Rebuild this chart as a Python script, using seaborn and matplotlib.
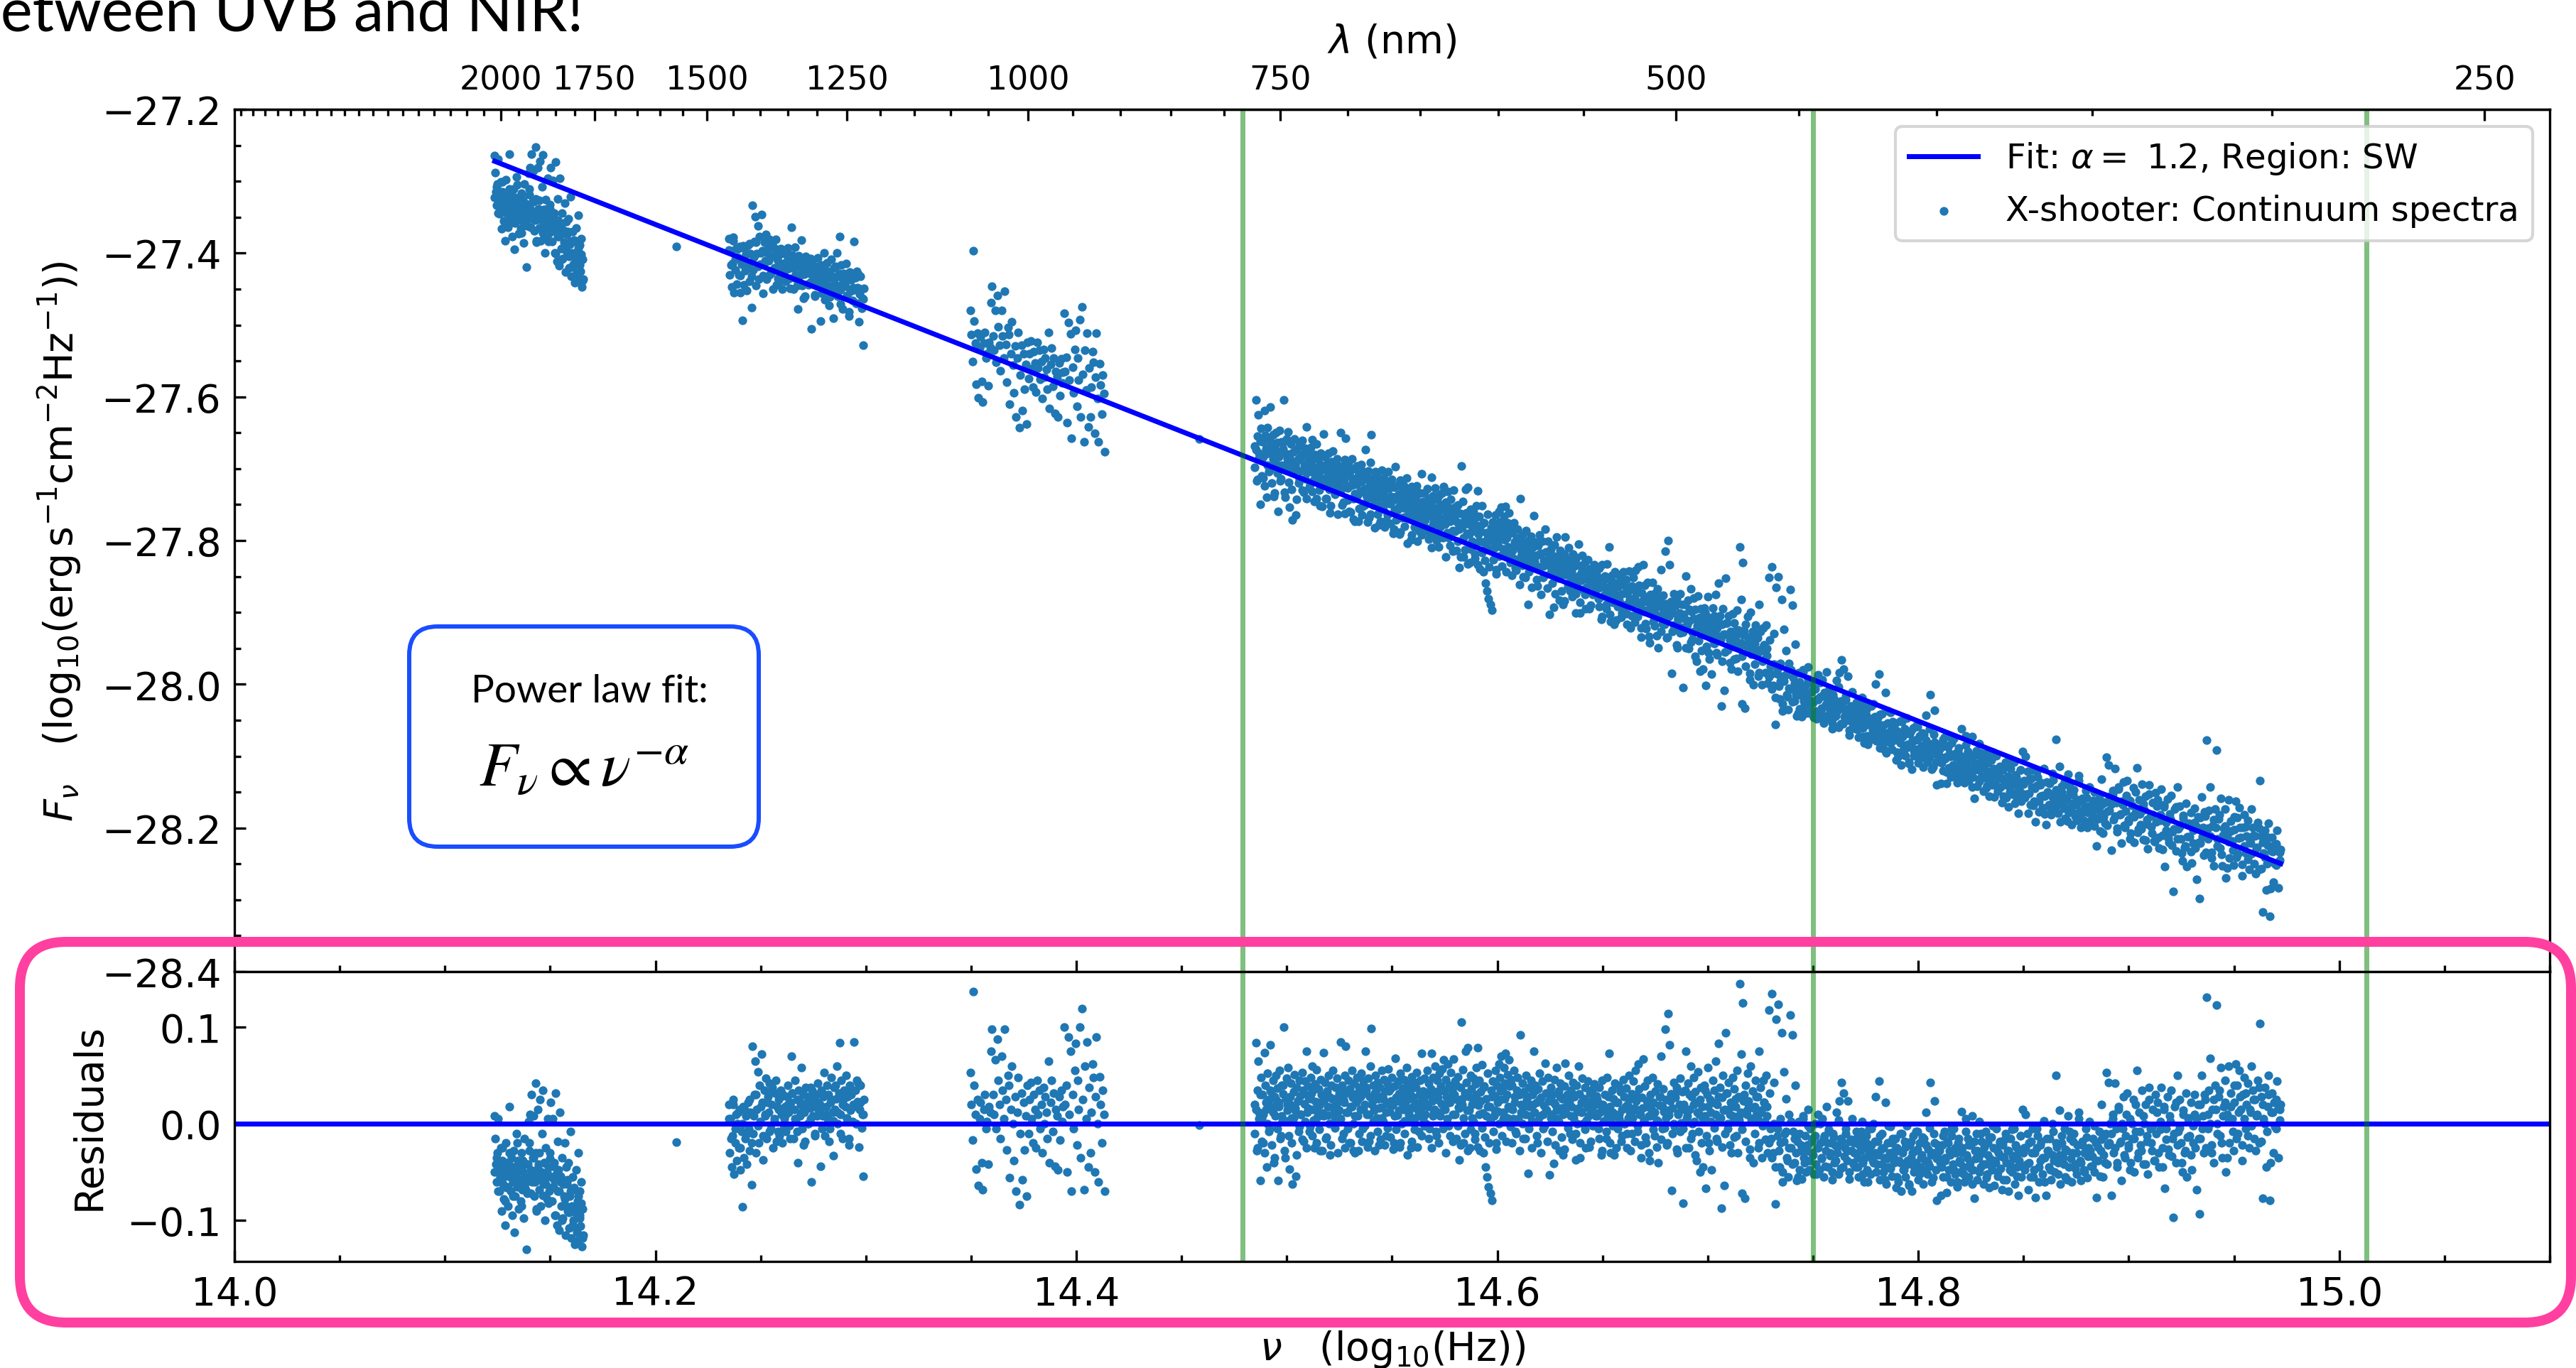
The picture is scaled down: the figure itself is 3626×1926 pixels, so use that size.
import numpy as np
import pandas as pd
import matplotlib
matplotlib.use("Agg")
import matplotlib.pyplot as plt
import seaborn as sns
from matplotlib.patches import FancyBboxPatch
from matplotlib.ticker import AutoMinorLocator, FixedLocator, MultipleLocator

W, H, DPI = 3626, 1927, 300

# ---------------------------------------------------------------- fit model
ALPHA = 1.152          # power-law index (F_nu ~ nu^-alpha)
NU_PIVOT = 14.1235     # log10(Hz)
LOGF_PIVOT = -27.272   # log10(erg s-1 cm-2 Hz-1) at the pivot

# ---------------------------------------------------------------- residuals (units of 1e-3 dex)
# NIR K-band continuum windows
SPAN_K = (14.1235, 14.1660)
RES_K = [8, -15, -42, -60, -30, 5, -48, -70, -55, -25, -90, -38, -62, -78, -50, -105, -20, -66, -45, -85,
         -40, 18, -55, -70, -35, -95, -60, -28, -48, -112, -75, -52, -10, -65, -38, -88, -58, -45, -80, -30,
         -68, -50, -98, -15, -62, -42, -130, -72, -55, 2,
         -20, 10, -48, 30, -60, -35, 8, -75, -52, 42, -30, -90, -58, 15, -42, -68, 25, -85, -50, -10,
         35, -62, -40, -100, -25, -55, -78, 5, -45, -70,
         -30, 22, -55, -80, 5, -65, -40, -95, 32, -52, -105, -18, -70, -48, -110, 12, -60, -85, -35, -98,
         -58, -75, -20, -115, -45,
         -62, -90, -40, -108, -75, -8, -118, -85, -55, -100, -68, -125, -92, -48, -112, -80, -30, -120, -95,
         -70, -106, -60, -127, -88, -115]
FILL_K = [-50, -35, -70, -45, -60, -25, -55, -80, -40, -65, -30, -50, -75, -45, -58, -20, -62, -48, -85, -38,
          -55, -68, -42, -28, -72, -52, -35, -60, -88, -46, -30, -56, -74, -40, -62, -50, -82, -36, -66, -44,
          -58, -95, -48, -70, -54, -100, -62, -78, -85, -58, -92, -70, -105, -66, -88, -110, -75, -98, -82, -118]

# NIR H-band continuum windows
SPAN_H = (14.2346, 14.2994)
RES_H = [20, -30, 5, -45, -12, 25, -52, -20, 10, -38, 0, -25, 15, -48, -8, -86, 18, -35, -15, 8, -42, 22, -5, -28, 12,
         -63, 80, -10, 30, 65, -30, 15, 54, -20, 40, 2, 72, 22, -37, 35, 8, 47, -15, 28, 12, 42, -5, 20, 38, -25,
         5, 32, 45, 18, -8,
         25, -12, 35, 10, -20, 30, 5, 18, -8, 28, 40, 12, -2, 22, 70, 32, -15, 15, 45, 2, 25, -40, 35, 8, 20,
         58, -5, 30, 12, -18, 38, 22, 0, 28, 16, 5, -60, 35, 18, 25, -10, 30, 8, 42, 15,
         20, -44, 35, 8, 28, 53, -12, 18, 40, 5, 30, -5, 22, 48, 12, -33, 38, 15, 26, 60, 0, 32, 84, 10, 45,
         -15, 25, 35, 18, 50, 6, 28, -22, 40, 14, 30, 2, 20,
         85, 35, 0, 45, 23, -24, 15, 40, -4, 10, -54, 25]
FILL_H = [5, -15, 20, -5, 12, -25, 0, 15, -10, 25, -20, 8, 30, -2, 18, -12, 10, 22, -8, 35,
          2, -18, 15, 28, -5, 10, 20, -15, 32, 5, -8, 25, 12, -22, 18, 0, 38, 8, -12, 22,
          15, -5, 30, 10, -18, 25, 3, 40, 12, -10, 20, 28, 5, -15, 35, 18, 0, 42, 22, 10]

# NIR J-band continuum windows
SPAN_J = (14.3493, 14.4138)
RES_J = [53, 20, -17, 137, 40, 10, -47, 25, -64, 5, 22, -40, -68, 15, 30, -5, 2, -42, 18, 12,
         75, 98, 30, 10, 66, -5, 88, 45, 20, -15, 70, 35, 5, 98, 25, -27, 50, 40, -56, 15, 60, 0, -38, 28, -70,
         12, 48, -84, -10, 32, -58, 22, -27, 8, -75,
         40, -10, 25, 43, 5, -20, 30, 15, -25, 45, 10, 35, -5, 20, -30, 38, 0, 28, 12, -15, 65, -40, 22, 45,
         -8, 32, -44, 15, 8, -48, 28, -17, 35, 2, 18,
         100, 20, 40, -50, 90, 10, 75, -70, 30, -5, 55, 83, -22, 45, 15, 100, -35, 119, 25, -68, 60, 5, 85, -45,
         38, -30, 12, 62, 48, -50, 28, 90, 0, -60, 49, 20, -20, 35, 10, -70]

# isolated continuum points
SINGLE_NU = [14.2098, 14.4585]
SINGLE_RES = [-19, -1]

# VIS + UVB continuum, in consecutive frequency bins
EDGES_OPT = [14.4846, 14.5253, 14.5660, 14.6066, 14.6473, 14.6880, 14.7287,
             14.7694, 14.8100, 14.8507, 14.8914, 14.9320, 14.9725]
RES_OPT_01 = [20, 84, -28, 35, 65, 12, -59, 48, 5, 30, -20, 74, 40, 15, -45, 52, 25, -5, 82, 33,
              18, 45, -40, 28, 8, 50, 37, -59, 22, 55, -12, 40, 3, 31, 100, -35, 26, 47, 14, 58,
              -47, 20, 42, 6, -62, 33, 51, 16, -54, 38, 24, -8, 45, 29, 10, 53, 35, -18, 21, 44,
              75, 12, 39, 27, -3, 48, 32, 60, 15, -25, 41, 23, 56, 7, 36, 19, -28, 46, 30, 11,
              74, 25, 43, -15, 34, 9, 50, 28, -32, 40, 17, 55, 26, 2, 38, 22, 47, 13, 31, 37]
RES_OPT_02 = [85, 28, 40, -10, 22, 50, 80, 33, 12, 45, -20, 36, 18, 55, 27, -28, 42, 8, 31, 48,
              25, -28, 38, 15, 52, 30, -5, 44, 20, 75, 35, 10, 47, -18, 28, 60, 99, 24, 40, 14,
              32, 50, 6, 43, 26, -22, 38, 17, 55, 29, 2, 46, 34, -12, 21, 41, 57, 13, 36, 24,
              48, 19, -20, 39, 68, 27, 9, 44, 31, -24, 52, 22, 37, 15, 46, 3, 33, 58, 25, 41,
              12, 35, -25, 49, 28, 18, 43, 6, 38, 53, 21, -8, 30, 45, 16, 73, 34, 26, 47, 10]
RES_OPT_03 = [30, 55, 18, 42, -5, 36, 73, 24, 48, 12, 60, 33, -12, 45, 27, 52, 8, 39, 21, 57,
              66, 34, 15, 46, 28, 62, -2, 40, 22, 53, 35, 10, 67, 30, 44, -15, 25, 49, 17, -37,
              38, 105, 20, 56, -20, 32, 75, 43, 14, 79, 28, -25, 50, 36, 6, 47, 24, -10, 41, 58,
              79, 19, 45, -28, 33, 61, 11, -30, 39, -45, 26, -55, 52, -65, 18, -72, 35, -79, 44, 8,
              29, 55, -20, 40, 13, 62, 48, 25, 70, 36, 5, 58, 42, 73, 30, 51, 18, 66, 39, 46]
RES_OPT_04 = [40, 15, 55, 28, -8, 35, 48, 5, 30, 92, 20, 42, -15, 33, 10, 50, 25, -51, 38, 18,
              45, 2, 30, 75, 12, 40, 22, -20, 36, 52, 8, 27, 44, -5, 19, 63, 32, 14, 48, 24,
              -53, 38, 10, 30, -41, 46, 20, 58, 5, 34, -28, 42, 16, 26, -32, 39, 63, 11, 30, 22,
              50, -10, 35, 18, 43, 6, 28, -37, 40, 13, 60, 31, -35, 22, 47, 0, 26, 38, -25, 17,
              44, 8, 32, -18, 24, 36, 12, 41, 20, 29]
RES_OPT_05 = [25, -5, 38, 12, -32, 45, 20, 3, 30, -15, 48, 8, 73, 18, -30, 35, -2, 26, 42, 10,
              -25, 22, 40, 5, 33, -18, 15, 46, 28, 0, 37, -10, 20, 50, 12, -28, 31, 6, 44, 16,
              55, 24, -8, 62, 36, 10, -35, 27, 67, 2, 39, -20, 18, 45, 8, -38, 30, 14, 48, 22,
              -12, 34, 4, 41, -40, 19, 28, 70, -5, 36, 13, 98, 25, -22, 114, 9, 82, 31, -69, 16,
              43, -3, 27, 38, -30, 11, 20, 47, 1, 33]
RES_OPT_06 = [-82, 20, 35, 75, 5, 42, -25, 15, 60, 28, -10, 48, 2, 33, -38, 22, 54, 10, -50, 38,
              18, -45, 40, 8, -67, 30, 58, -20, 25, 12, -48, 45, 0, 35, 65, -15, 20, 83, 6, 38,
              -87, 27, 50, -64, 15, 94, 32, -5, 43, 10, 22, -30, 48, 3, 36, 18, -12, 55, 28, 8,
              145, 72, -72, 125, 30, -77, 40, 14, 52, 24, -35, 60, 5, 34, -40, 18, 45, 9, 28, -25,
              75, 38, 12, -35, 45, 22, 2, 50, 18, -30]
RES_OPT_07 = [118, 32, -15, 135, -30, 43, -83, 108, -5, 124, -45, -20, 94, -60, 54, -10, 26, -35, -55, 10,
              113, -25, 92, -8, -40, 40, -59, -18, 2, -48, -28, -57, 5, -35, -12, -50, -22, 15, -38, -5,
              -30, -15, -52, 0, -42, -25, 10, -48, -20, -35, 5, -55, -12, -28, 18, -45, -8, -33, -20, -50,
              -10, -40, -22, 12, -30, -52, 24, -15, 43, -45, 32, -25, -5, -38, 24, -57, -18, -28, 5, -42]
RES_OPT_08 = [-20, -45, -8, -35, -55, -15, -28, 2, -40, -60, -25, -12, -48, -32, -5, -52, -22, -38, 0, -30,
              28, -42, -18, 44, -58, -26, -10, -50, -35, 22, -62, -20, -45, -30, -3, -54, -15, -40, -28, -66,
              -25, -60, -38, -10, -70, -30, -48, -18, -55, -2, -42, -64, -22, -35, -70, -12, -50, -28, -40, -8,
              -58, -20, -45, -32, -62, -15, -38, 12, -52, -26, -44, 43, -60, -30, -10, 24, -48, -79, -22, -36]
RES_OPT_09 = [-40, -74, -22, -55, -8, -35, -71, -18, -48, -28, -60, -12, -42, -5, -52, -30, -65, -20, -38, -50,
              13, -25, -45, -60, 5, -32, -15, -55, -40, -22, 8, -48, -77, -28, -10, -58, -35, 2, -45, -18,
              -30, -62, -42, -8, -52, -20, -66, -36, -14, -48, -25, -64, -40, -5, -54, -30, -18, -46, -68, -22,
              -35, -10, -58, -28, -70, -42, -15, -50, -33, -5, -62, -24, -45, -74, -38, -12, -55, 15, -30, -48]
RES_OPT_10 = [10, -42, -68, -20, -55, -30, -5, -48, -76, -25, -12, -60, -38, -18, -52, 3, -35, -74, -28, -45,
              -15, -58, -32, -8, -50, 50, -24, -40, 14, -62, -20, -35, -5, -55, -28, 8, -45, -15, -60, -30,
              -10, -42, -52, -22, 12, -38, -59, -18, -48, -30, -5, -56, -25, 2, -44, -34, -15,
              -50, -20, -76, -38, -8, -28, 20, -55, -12, -40, 53, -22, 43, 0]
RES_OPT_11 = [-74, 10, -30, 42, -5, -45, 18, -20, -59, 0, 28, -35, -12, 32, -25, 5, -40, -15,
              25, -50, -8, 55, -30, 12, -22, 35, -42, 0, 20, -18, -52, 38, -5, -28, 15,
              -38, 30, -10, 22, -45, 2, 38, -25, 15, -67, -5, 28, -32, 8, 35, -15,
              -97, 18, -40, 50, -8, 25, -20, -50, 10, -30, 32, -55, 5, -12, 22, -48, -2, 30, -25]
RES_OPT_12 = [-68, 20, -93, -15, 50, 8, -30, 25, 131, -5, 35, 68, -22, 15, -40, 40,
              123, 0, 28, -12, 58, -35, 18, 45, -50, 10, 60, -20, 32, 5, -28, 22, 62,
              40, -10, 55, 15, -38, 30, 48, -5, 20, 42, -25, 12, 60, 35, -15, 25, 8,
              45, -20, 104, 28, -77, 5, 38, -45, 18, 50, -79, 12, 32, -30, -3, 25, 44, -35, 15, 20]

# second pass through the same bins (interleaved pixels)
FILL_OPT_01 = [-10, 15, -25, 5, 30, -18, 10, -30, 22, 0, -8, 35, -22, 12, -35, 25, -5, 18, -15, 8,
               40, -28, 3, 20, -12, 28, -20, 6, 14, -32, 24, -3, 10, -16, 32, 2, -25, 16, -8, 26,
               -12, 4, 36, -20, 12, -6, 22, -28, 8, 30, -14, 18, 0, -22, 26, 10, -4, 20, -30, 14]
FILL_OPT_02 = [5, -15, 25, -25, 12, -5, 32, -20, 18, 0, -30, 22, 8, -10, 28, -18, 15, -2, 38, -24,
               10, -12, 20, 2, -28, 30, -8, 16, -16, 6, 26, -22, 12, -4, 34, -14, 20, -26, 8, -6,
               24, 14, -20, 0, 30, -10, 18, -32, 10, 4, -18, 26, -6, 16, -24, 12, 22, -12, 6, -2]
FILL_OPT_03 = [0, 20, -15, 30, -25, 8, 15, -8, 25, -20, 12, 35, -5, 18, -30, 5, 22, -12, 28, -18,
               10, 40, -2, 16, -22, 26, 6, -10, 32, -28, 14, -6, 20, 2, -16, 30, -24, 10, 24, -4,
               38, -14, 8, 18, -20, 4, 28, -8, 14, -26, 22, 0, 34, -12, 12, 26, -18, 6, 16, -3]
FILL_OPT_04 = [-20, 5, 22, -10, 30, -28, 12, 0, 18, -15, 28, -5, 8, -25, 20, 35, -12, 4, 25, -30,
               10, -2, 15, -18, 32, 6, -8, 22, -22, 14, 2, 28, -14, 10, -26, 18, -4, 24, 8, -16,
               30, -10, 0, 16, -20, 12, 26, -6, 4, 20, -24, 14, -2, 22, 8]
FILL_OPT_05 = [8, -15, 20, -28, 2, 15, -8, 28, -20, 5, 12, -32, 22, -5, 10, 35, -12, 0, 18, -25,
               6, 26, -10, 14, -18, 30, -2, 10, -22, 16, 4, -14, 24, -30, 8, 20, -6, 12, -24, 2,
               28, -16, 18, -4, 6, -20, 14, 24, -10, 0, 32, -26, 10, -8, 16]
FILL_OPT_06 = [-5, 15, -25, 8, 30, -15, 0, 20, -32, 12, -8, 25, -20, 5, 35, -12, 18, -28, 2, 22,
               -4, 10, -18, 28, 6, -24, 14, -10, 32, 0, -22, 18, 8, -14, 26, -30, 4, 12, -6, 24,
               -18, 10, 20, -26, 2, 16, -10, 28, 6, -20, 14, -2, 22, -16, 8]
FILL_OPT_07 = [-20, -5, -35, 0, -45, -12, -28, 5, -50, -18, -8, -38, -25, 2, -42, -15, -30, -55, -10, -22,
               8, -40, -28, -2, -48, -18, -32, -12, -52, -25, 0, -36, -15, -44, -20, -6, -30, -58, -14, -38,
               -24, 4, -46, -18, -34, -10, -28, -50, -16, -40]
FILL_OPT_08 = [-30, -15, -45, -22, -8, -52, -35, -20, -60, -28, -5, -40, -18, -50, -32, -12, -42, -25, -58, -36,
               -2, -46, -20, -34, -15, -55, -28, -40, -10, -48, -24, -38, -62, -18, -30, -44, -8, -26, -52, -35,
               -14, -48, -22, -40, -4, -32, -56, -20, -36, -28]
FILL_OPT_09 = [-28, -45, -12, -38, -55, -20, -32, -5, -48, -25, -60, -15, -40, -30, -52, -8, -35, -22, -46, -62,
               -18, -36, -28, -50, -10, -42, -24, -56, -32, -14, -44, -2, -38, -26, -50, -20, -34, -58, -16, -40,
               -28, -48, -6, -36, -22, -54, -30, -12, -44, -25]
FILL_OPT_10 = [-25, -10, -40, -18, -55, -30, -5, -45, -22, -35, -60, -15, -28, -48, 0, -38, -20, -52, -32, -12,
               -42, -26, -58, -8, -36, -18, -46, -30, 5, -40, -22, -50, -14, -34, -28, -44, -2, -38, -24, -54,
               -16, -32, -10, -42, -20]
FILL_OPT_11 = [-10, 5, -25, -40, 15, -18, -5, -32, 10, -22, -48, 0, -15, 20, -35, -8, -28, 8, -42, -12,
               25, -20, -2, -38, 12, -30, -6, -45, 18, -16, -26, 2, -34, -10, 22, -22, -4, -40, 14, -28,
               -14, 6, -32, -20, 10]
FILL_OPT_12 = [5, -15, 20, -5, 30, -25, 10, 0, -30, 25, 15, -10, 35, -20, 8, 22, -35, 2, 18, -8,
               40, -15, 12, 28, -22, 5, 32, -12, 15, -2, 25, -28, 10, 38, -18, 20, 0, -8, 30, -40,
               12, 22, -5, 16, 4]

RES_OPT = [RES_OPT_01, RES_OPT_02, RES_OPT_03, RES_OPT_04, RES_OPT_05, RES_OPT_06,
           RES_OPT_07, RES_OPT_08, RES_OPT_09, RES_OPT_10, RES_OPT_11, RES_OPT_12]
FILL_OPT = [FILL_OPT_01, FILL_OPT_02, FILL_OPT_03, FILL_OPT_04, FILL_OPT_05, FILL_OPT_06,
            FILL_OPT_07, FILL_OPT_08, FILL_OPT_09, FILL_OPT_10, FILL_OPT_11, FILL_OPT_12]

# X-shooter arm boundaries (log10 Hz)
ARM_EDGES = [14.479, 14.750, 15.013]

# wavelength axis: tick values and their frequency positions
LAM_TICKS = [2000, 1750, 1500, 1250, 1000, 750, 500, 250]
LAM_AXIS_NM = [3000, 2000, 1750, 1500, 1250, 1000, 750, 500, 250, 200]
LAM_AXIS_NU = [13.9917, 14.1266, 14.1710, 14.2244, 14.2910, 14.3770, 14.4970, 14.6850, 15.0690, 15.2050]


# ---------------------------------------------------------------- assemble spectrum
def sample(lo, hi, vals, offset=0.5):
    n = len(vals)
    step = (hi - lo) / n
    return lo + step * (np.arange(n) + offset), np.asarray(vals, float) / 1000.0


parts = [sample(*SPAN_K, RES_K), sample(*SPAN_K, FILL_K, 0.25),
         sample(*SPAN_H, RES_H), sample(*SPAN_H, FILL_H, 0.25),
         sample(*SPAN_J, RES_J),
         (np.asarray(SINGLE_NU), np.asarray(SINGLE_RES, float) / 1000.0)]
for lo, hi, vals, fill in zip(EDGES_OPT[:-1], EDGES_OPT[1:], RES_OPT, FILL_OPT):
    parts.append(sample(lo, hi, vals))
    parts.append(sample(lo, hi, fill, 0.25))

nu = np.concatenate([p[0] for p in parts])
resid = np.concatenate([p[1] for p in parts])


def power_law(x):
    return LOGF_PIVOT - ALPHA * (np.asarray(x) - NU_PIVOT)


df = pd.DataFrame({"nu": nu, "resid": resid, "logF": power_law(nu) + resid})
fit_df = pd.DataFrame({"nu": [nu.min(), nu.max()]})
fit_df["logF"] = power_law(fit_df["nu"])

# ---------------------------------------------------------------- figure
plt.rcParams["font.family"] = ["DejaVu Sans"]
plt.rcParams["mathtext.fontset"] = "dejavusans"

fig = plt.figure(figsize=(W / DPI, H / DPI), dpi=DPI)
fig.patch.set_facecolor("white")

L, R = 330, 3589
T1, B1, B2 = 155, 1369, 1777
ax = fig.add_axes([L / W, 1 - B1 / H, (R - L) / W, (B1 - T1) / H])
axr = fig.add_axes([L / W, 1 - B2 / H, (R - L) / W, (B2 - B1) / H], sharex=ax)

PT = 72.0 / DPI  # points per pixel
dot_s = (12.3 * PT) ** 2

sns.lineplot(data=fit_df, x="nu", y="logF", ax=ax, color="blue", lw=7 * PT,
             label=f"Fit: $\\alpha =${ALPHA:4.1f}, Region: SW")
sns.scatterplot(data=df, x="nu", y="logF", ax=ax, s=dot_s, linewidth=0, color="#1f77b4",
                label="X-shooter: Continuum spectra")
sns.scatterplot(data=df, x="nu", y="resid", ax=axr, s=dot_s, linewidth=0, color="#1f77b4",
                legend=False)
axr.axhline(0, color="blue", lw=7 * PT)

for a in (ax, axr):
    for v in ARM_EDGES:
        a.axvline(v, color="g", alpha=0.5, lw=7 * PT)

ax.set_xlim(14.0, 15.1)
ax.set_ylim(-28.4, -27.2)
axr.set_ylim(-0.1425, 0.1575)

for a in (ax, axr):
    a.tick_params(which="both", direction="in", labelsize=13.2, pad=4.5, width=0.8)
    a.tick_params(which="major", length=3.8)
    a.tick_params(which="minor", length=2.1)
    a.xaxis.set_major_locator(MultipleLocator(0.2))
    a.xaxis.set_minor_locator(AutoMinorLocator(4))
ax.yaxis.set_major_locator(MultipleLocator(0.2))
ax.yaxis.set_minor_locator(AutoMinorLocator(4))
axr.yaxis.set_major_locator(MultipleLocator(0.1))
ax.tick_params(labelbottom=False)

ax.set_xlabel("")
ax.set_ylabel(r"$F_\nu$   (log$_{10}$(erg$\,$s$^{-1}$cm$^{-2}$Hz$^{-1}$))", fontsize=13.3, labelpad=6)
axr.set_ylabel("Residuals", fontsize=13.3, labelpad=6)
axr.set_xlabel(r"$\nu$   (log$_{10}$(Hz))", fontsize=13.3, labelpad=5)

ax.legend(loc="upper right", fontsize=11.6)

# wavelength scale on top
lam_log = np.log10(LAM_AXIS_NM)
nu_tab = np.asarray(LAM_AXIS_NU)


def nu_to_lam(x):
    return 10 ** np.interp(x, nu_tab, lam_log)


def lam_to_nu(lam):
    lam = np.clip(np.asarray(lam, float), 1.0, None)
    return np.interp(np.log10(lam), lam_log[::-1], nu_tab[::-1])


sec = ax.secondary_xaxis("top", functions=(nu_to_lam, lam_to_nu))
sec.xaxis.set_major_locator(FixedLocator(LAM_TICKS))
sec.xaxis.set_minor_locator(MultipleLocator(50))
sec.tick_params(which="both", direction="in", labelsize=11.0, pad=4.5, width=0.8)
sec.tick_params(which="major", length=3.8)
sec.tick_params(which="minor", length=2.1)
sec.set_xlabel(r"$\lambda$ (nm)", fontsize=13.3)

# ---------------------------------------------------------------- slide annotations (pixel coordinates)
ov = fig.add_axes([0, 0, 1, 1], zorder=10)
ov.set_xlim(0, W)
ov.set_ylim(H, 0)
ov.axis("off")
ov.patch.set_alpha(0)

SLIDE_FONT = ["Lato", "DejaVu Sans"]

ov.add_patch(FancyBboxPatch((576, 883), 492, 310, boxstyle="round,pad=0,rounding_size=40",
                            lw=6 * PT, ec="#1a4dff", fc="white"))
ov.text(830, 974, "Power law fit:", ha="center", va="center", fontsize=13.2,
        family=SLIDE_FONT, fontweight="normal", color="black")
ov.text(822, 1107, r"$F_\nu \propto \nu^{-\alpha}$", ha="center", va="baseline", fontsize=21,
        math_fontfamily="stix")

ov.add_patch(FancyBboxPatch((28, 1327), 3591, 536, boxstyle="round,pad=0,rounding_size=65",
                            lw=14 * PT, ec="#ff40a0", fc="none"))

# slide heading, scaled so its visible part spans the target width
probe = ov.text(0, 0, "etween UVB and NIR!", fontsize=20, family=SLIDE_FONT, fontweight="normal")
fig.canvas.draw()
probe_w = probe.get_window_extent().width
probe.remove()
ov.text(821, 43, "Between UVB and NIR!", ha="right", va="baseline",
        fontsize=20 * 821 / probe_w, family=SLIDE_FONT, fontweight="normal", color="black")

fig.savefig("out.png", dpi=DPI, facecolor="white")
